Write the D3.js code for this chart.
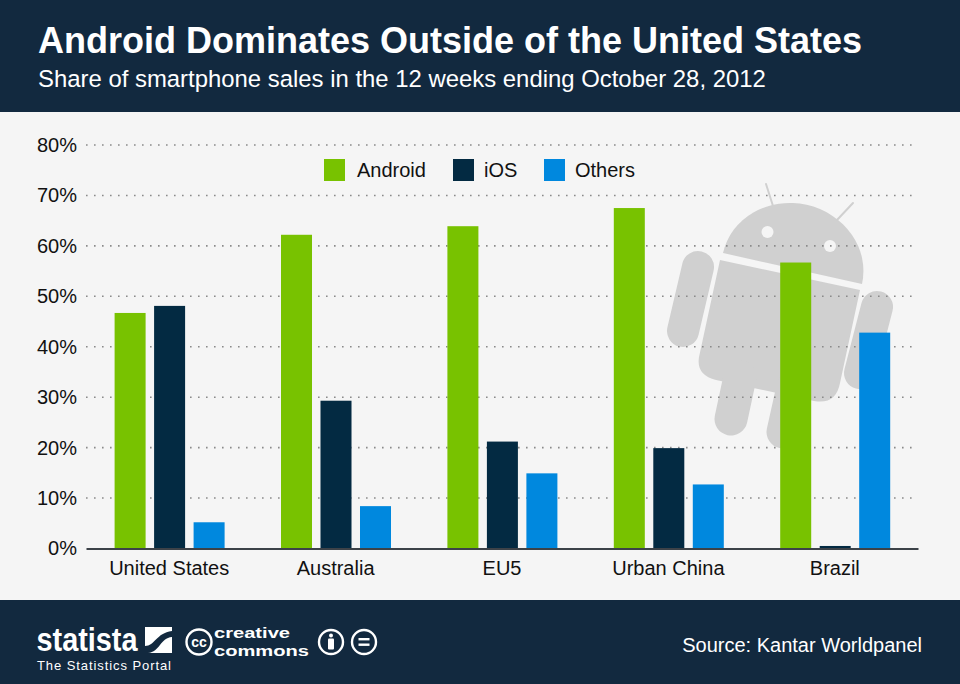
<!DOCTYPE html>
<html><head><meta charset="utf-8">
<script src="https://cdn.jsdelivr.net/npm/d3@7/dist/d3.min.js"></script>
<style>html,body{margin:0;padding:0;background:#f5f5f5}svg{display:block}text{font-family:"Liberation Sans",Arial,sans-serif}</style>
</head><body><svg id="c" width="960" height="684"></svg>
<script>
const categories=["United States","Australia","EU5","Urban China","Brazil"];
const seriesNames=["Android","iOS","Others"];
const android=[46.7,62.2,63.9,67.5,56.7];
const ios=[48.1,29.3,21.2,19.9,0.5];
const others=[5.2,8.4,14.9,12.7,42.8];
const seriesValues=[android,ios,others];
const colors=["#78c200","#032a42","#0088de"];
const yTicks=[0,10,20,30,40,50,60,70,80];
const navy="#12293f";

const svg=d3.select("#c");
svg.append("rect").attr("width",960).attr("height",684).attr("fill","#f5f5f5");
svg.append("rect").attr("width",960).attr("height",112).attr("fill",navy);
svg.append("rect").attr("y",600).attr("width",960).attr("height",84).attr("fill",navy);
svg.append("text").attr("x",38).attr("y",53).attr("fill","#fff").attr("font-size",36).attr("font-weight","bold").text("Android Dominates Outside of the United States");
svg.append("text").attr("x",38).attr("y",87).attr("fill","#fff").attr("font-size",23.9).text("Share of smartphone sales in the 12 weeks ending October 28, 2012");

// Android mascot watermark
const logo=svg.append("g").attr("fill","#d0d0d0").attr("stroke-linecap","round");
logo.append("path").attr("d","M723,253 A71,65 12.6 0 1 862,284 Z");
logo.append("path").attr("d","M720,260 L860,290 L840,383 Q836,405 814,401 L716,380 Q696,375 699,357 Z");
const caps=[[698,267,683,331,16],[877,307,860,373,16],[740,377,731,419,16.5],[793,387,783,432,16.5]];
caps.forEach(c=>logo.append("line").attr("x1",c[0]).attr("y1",c[1]).attr("x2",c[2]).attr("y2",c[3]).attr("stroke","#d0d0d0").attr("stroke-width",c[4]*2));
[[766,184,773,206],[853,203,837,220]].forEach(c=>logo.append("line").attr("x1",c[0]).attr("y1",c[1]).attr("x2",c[2]).attr("y2",c[3]).attr("stroke","#d0d0d0").attr("stroke-width",2));
[[767.5,232],[830,246]].forEach(c=>logo.append("circle").attr("cx",c[0]).attr("cy",c[1]).attr("r",6).attr("fill","#f5f5f5"));

const y=d3.scaleLinear().domain([0,80]).range([548.5,145]);
const x=d3.scaleBand().domain(categories).range([86,918]);
const xInner=d3.scaleBand().domain(seriesNames).range([-54.6,55.4]).paddingInner(0.215).paddingOuter(0);

const gy=svg.append("g").attr("transform","translate(86,0)").call(d3.axisLeft(y).tickValues(yTicks).tickFormat(d=>d+"%").tickSize(0).tickPadding(9));
gy.select(".domain").remove();
gy.selectAll("text").attr("font-size",20).attr("fill","#111").style("font-family",'"Liberation Sans",Arial,sans-serif');
svg.append("g").selectAll("line").data(yTicks.filter(d=>d>0)).join("line")
  .attr("x1",86).attr("x2",918).attr("y1",d=>y(d)).attr("y2",d=>y(d))
  .attr("stroke","#8a8a8a").attr("stroke-width",1.6).attr("stroke-dasharray","1.6 6.4");

const groups=svg.append("g").selectAll("g").data(categories).join("g")
  .attr("transform",d=>`translate(${x(d)+x.bandwidth()/2},0)`);
groups.selectAll("rect").data((d,i)=>seriesNames.map((s,j)=>({s,v:seriesValues[j][i],c:colors[j]}))).join("rect")
  .attr("x",d=>xInner(d.s)).attr("width",xInner.bandwidth())
  .attr("y",d=>y(d.v)).attr("height",d=>y(0)-y(d.v)).attr("fill",d=>d.c);

const gx=svg.append("g").attr("transform",`translate(0,${y(0)})`).call(d3.axisBottom(x).tickSize(0).tickPadding(12));
gx.select(".domain").attr("stroke","#3c4248").attr("stroke-width",2);
gx.selectAll("text").attr("font-size",20).attr("fill","#111").style("font-family",'"Liberation Sans",Arial,sans-serif');

// Legend
const legendX=[324,453,544];
const lg=svg.append("g").selectAll("g").data(seriesNames).join("g").attr("transform",(d,i)=>`translate(${legendX[i]},159)`);
lg.append("rect").attr("width",21).attr("height",22).attr("fill",(d,i)=>colors[i]);
lg.append("text").attr("x",(d,i)=>i==0?33:31).attr("y",18).attr("font-size",20).attr("fill","#111").text(d=>d);

// Footer
const wh="#fff";
svg.append("text").attr("x",36.5).attr("y",651).attr("fill",wh).attr("font-size",33).attr("font-weight","bold")
  .attr("textLength",101).attr("lengthAdjust","spacingAndGlyphs").text("statista");
svg.append("text").attr("x",37).attr("y",670).attr("fill",wh).attr("font-size",13).attr("textLength",134).attr("lengthAdjust","spacing").text("The Statistics Portal");
svg.append("rect").attr("x",145).attr("y",627).attr("width",27).attr("height",26).attr("fill",wh);
svg.append("path").attr("d","M145,646 C155,646 156,633 172,631 L172,637 C160,638 160,652 148,653 L145,653 Z").attr("fill",navy);
svg.append("circle").attr("cx",199).attr("cy",642).attr("r",12.5).attr("fill","none").attr("stroke",wh).attr("stroke-width",2.4);
svg.append("text").attr("x",199).attr("y",646.5).attr("text-anchor","middle").attr("fill",wh).attr("font-size",14).attr("font-weight","bold").text("cc");
svg.append("text").attr("x",214).attr("y",638).attr("fill",wh).attr("font-size",15.5).attr("font-weight","bold").attr("textLength",76).attr("lengthAdjust","spacingAndGlyphs").text("creative");
svg.append("text").attr("x",214).attr("y",655.5).attr("fill",wh).attr("font-size",15.5).attr("font-weight","bold").attr("textLength",95).attr("lengthAdjust","spacingAndGlyphs").text("commons");
svg.append("circle").attr("cx",331).attr("cy",642).attr("r",12).attr("fill","none").attr("stroke",wh).attr("stroke-width",2.4);
svg.append("circle").attr("cx",331).attr("cy",635.5).attr("r",2).attr("fill",wh);
svg.append("rect").attr("x",328).attr("y",638.5).attr("width",6).attr("height",11).attr("rx",1).attr("fill",wh);
svg.append("circle").attr("cx",364).attr("cy",642).attr("r",12).attr("fill","none").attr("stroke",wh).attr("stroke-width",2.4);
svg.append("rect").attr("x",358.5).attr("y",638).attr("width",11).attr("height",2.4).attr("fill",wh);
svg.append("rect").attr("x",358.5).attr("y",643.5).attr("width",11).attr("height",2.4).attr("fill",wh);
svg.append("text").attr("x",922).attr("y",652).attr("text-anchor","end").attr("fill",wh).attr("font-size",20).text("Source: Kantar Worldpanel");
</script></body></html>
